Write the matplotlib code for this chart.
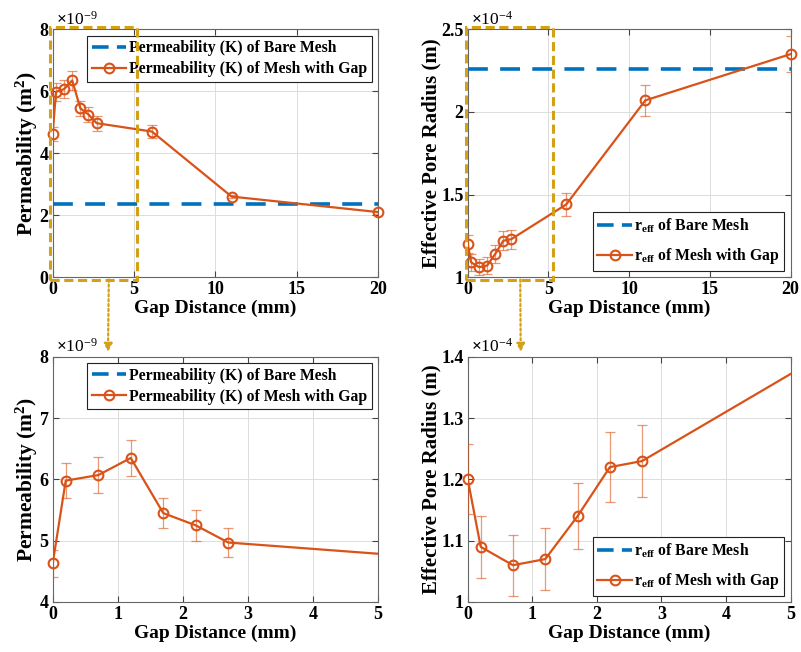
import matplotlib
matplotlib.use("Agg")
import matplotlib.pyplot as plt
from matplotlib.patches import Rectangle, ConnectionPatch
from matplotlib.lines import Line2D
from matplotlib.ticker import FuncFormatter
import matplotlib.transforms as mtransforms

plt.rcParams['font.family'] = ['Liberation Serif', 'DejaVu Serif']
plt.rcParams['font.weight'] = 'bold'
plt.rcParams['mathtext.fontset'] = 'custom'
plt.rcParams['mathtext.rm'] = 'Liberation Serif'
plt.rcParams['mathtext.bf'] = 'Liberation Serif:bold'
plt.rcParams['mathtext.it'] = 'Liberation Serif:italic'

# ---------------- data ----------------
gap_mm = [0.0, 0.2, 0.7, 1.2, 1.7, 2.2, 2.7, 6.1, 11.0, 20.0]
perm_e9 = [4.63, 5.98, 6.07, 6.35, 5.45, 5.25, 4.97, 4.70, 2.60, 2.10]     # x1e-9 m^2
perm_err_e9 = [0.22, 0.28, 0.29, 0.30, 0.25, 0.25, 0.24, 0.20, 0.06, 0.05]
perm_bare_e9 = 2.35
reff_e4 = [1.20, 1.09, 1.06, 1.07, 1.14, 1.22, 1.23, 1.44, 2.07, 2.35]     # x1e-4 m
reff_err_e4 = [0.057, 0.051, 0.050, 0.050, 0.054, 0.057, 0.058, 0.068, 0.095, 0.11]
reff_bare_e4 = 2.26

ORANGE = '#D95319'
BLUE = '#0072BD'
GOLD = '#D4A017'

fig = plt.figure(figsize=(8.01, 6.52), dpi=100)
ax_tl = fig.add_axes([0.0658, 0.575, 0.406, 0.380])
ax_tr = fig.add_axes([0.584, 0.575, 0.403, 0.380])
ax_bl = fig.add_axes([0.0658, 0.0767, 0.406, 0.376])
ax_br = fig.add_axes([0.584, 0.0767, 0.403, 0.376])

fmt_g = FuncFormatter(lambda v, p: ('%g' % round(v, 4)))


def draw(ax, yvals, yerr, bare, labels, xlim, ylim, yticks, xticks, offset, ylabel,
         legloc, labelspacing, ylabel_size):
    ax.plot(xlim, [bare, bare], color=BLUE, lw=2.6, dashes=(5.5, 3.4), zorder=3)
    ax.errorbar(gap_mm, yvals, yerr=yerr, fmt='none', ecolor=ORANGE, elinewidth=0.9,
                capsize=3.5, capthick=0.9, alpha=0.6, zorder=3)
    # connecting line (clipped to the axes)
    ax.plot(gap_mm, yvals, color=ORANGE, lw=1.6, zorder=4)
    # markers that fall in the visible x-range, drawn unclipped
    xin = [x for x in gap_mm if xlim[0] <= x <= xlim[1]]
    yin = [y for x, y in zip(gap_mm, yvals) if xlim[0] <= x <= xlim[1]]
    ax.plot(xin, yin, ls='none', marker='o', ms=7, mfc='none', mec=ORANGE, mew=1.5,
            zorder=5, clip_on=False)
    handles = [
        Line2D([], [], color=BLUE, lw=2.6, dashes=(4.6, 2.3)),
        Line2D([], [], color=ORANGE, lw=1.6, marker='o', ms=7, mfc='none', mec=ORANGE, mew=1.5),
    ]
    ax.set_xlim(*xlim)
    ax.set_ylim(*ylim)
    ax.set_xticks(xticks)
    ax.set_yticks(yticks)
    ax.yaxis.set_major_formatter(fmt_g)
    ax.xaxis.set_major_formatter(fmt_g)
    ax.grid(True, color='#dcdcdc', lw=0.7)
    ax.set_axisbelow(True)
    ax.tick_params(direction='in', top=True, right=True, labelsize=13, length=4,
                   width=0.8, color='#444444', pad=3)
    for lab in ax.get_xticklabels() + ax.get_yticklabels():
        lab.set_fontweight('bold')
    for s in ax.spines.values():
        s.set_color('#666666')
        s.set_linewidth(0.8)
    ax.set_xlabel('Gap Distance (mm)', fontsize=14, fontweight='bold', labelpad=1)
    ax.set_ylabel(ylabel, fontsize=ylabel_size, fontweight='bold', labelpad=0)
    ax.text(0.01, 1.003, offset, transform=ax.transAxes, fontsize=12.5,
            fontweight='normal', ha='left', va='bottom')
    leg = ax.legend(handles, labels, loc=legloc, fontsize=11.3, frameon=True, fancybox=False,
                    edgecolor='#222222', framealpha=1, handlelength=2.2,
                    handletextpad=0.15, borderpad=0.3, labelspacing=labelspacing,
                    borderaxespad=0.4)
    leg.get_frame().set_linewidth(0.8)
    for t in leg.get_texts():
        t.set_fontweight('bold')
    return ax


perm_labels = ['Permeability (K) of Bare Mesh', 'Permeability (K) of Mesh with Gap']
reff_labels = [r'$\mathbf{r_{eff}}$ of Bare Mesh', r'$\mathbf{r_{eff}}$ of Mesh with Gap']
perm_ylabel = r'Permeability (m$^{\mathbf{2}}$)'
reff_ylabel = 'Effective Pore Radius (m)'

draw(ax_tl, perm_e9, perm_err_e9, perm_bare_e9, perm_labels, (0, 20), (0, 8),
     [0, 2, 4, 6, 8], [0, 5, 10, 15, 20], r'$\times\mathregular{10^{-9}}$', perm_ylabel,
     'upper right', 0.3, 15.5)
draw(ax_tr, reff_e4, reff_err_e4, reff_bare_e4, reff_labels, (0, 20), (1, 2.5),
     [1, 1.5, 2, 2.5], [0, 5, 10, 15, 20], r'$\times\mathregular{10^{-4}}$', reff_ylabel,
     'lower right', 0.7, 15)
draw(ax_bl, perm_e9, perm_err_e9, perm_bare_e9, perm_labels, (0, 5), (4, 8),
     [4, 5, 6, 7, 8], [0, 1, 2, 3, 4, 5], r'$\times\mathregular{10^{-9}}$', perm_ylabel,
     'upper right', 0.3, 15.5)
draw(ax_br, reff_e4, reff_err_e4, reff_bare_e4, reff_labels, (0, 5), (1, 1.4),
     [1, 1.1, 1.2, 1.3, 1.4], [0, 1, 2, 3, 4, 5], r'$\times\mathregular{10^{-4}}$', reff_ylabel,
     'lower right', 0.7, 15)

# zoom boxes + arrows
for top, bot, ax_x0, ax_x1, conn_top, conn_bot in [
        (ax_tl, ax_bl, -0.17, 5.2, 3.45, 0.85),
        (ax_tr, ax_br, -0.1, 5.25, 3.25, 0.82)]:
    tr = mtransforms.blended_transform_factory(top.transData, top.transAxes)
    rect = Rectangle((ax_x0, -0.01), ax_x1 - ax_x0, 1.02, transform=tr, fill=False,
                     edgecolor=GOLD, lw=2.2, ls=(0, (3, 1.5)), clip_on=False, zorder=6)
    top.add_patch(rect)
    cp = ConnectionPatch(xyA=(conn_top, -0.01), coordsA=tr,
                         xyB=(conn_bot, 1.02),
                         coordsB=mtransforms.blended_transform_factory(bot.transData, bot.transAxes),
                         arrowstyle='-|>', mutation_scale=12, color=GOLD, lw=1.6,
                         ls=(0, (1, 1.2)), zorder=6)
    fig.add_artist(cp)

fig.savefig('out.png', dpi=100)
